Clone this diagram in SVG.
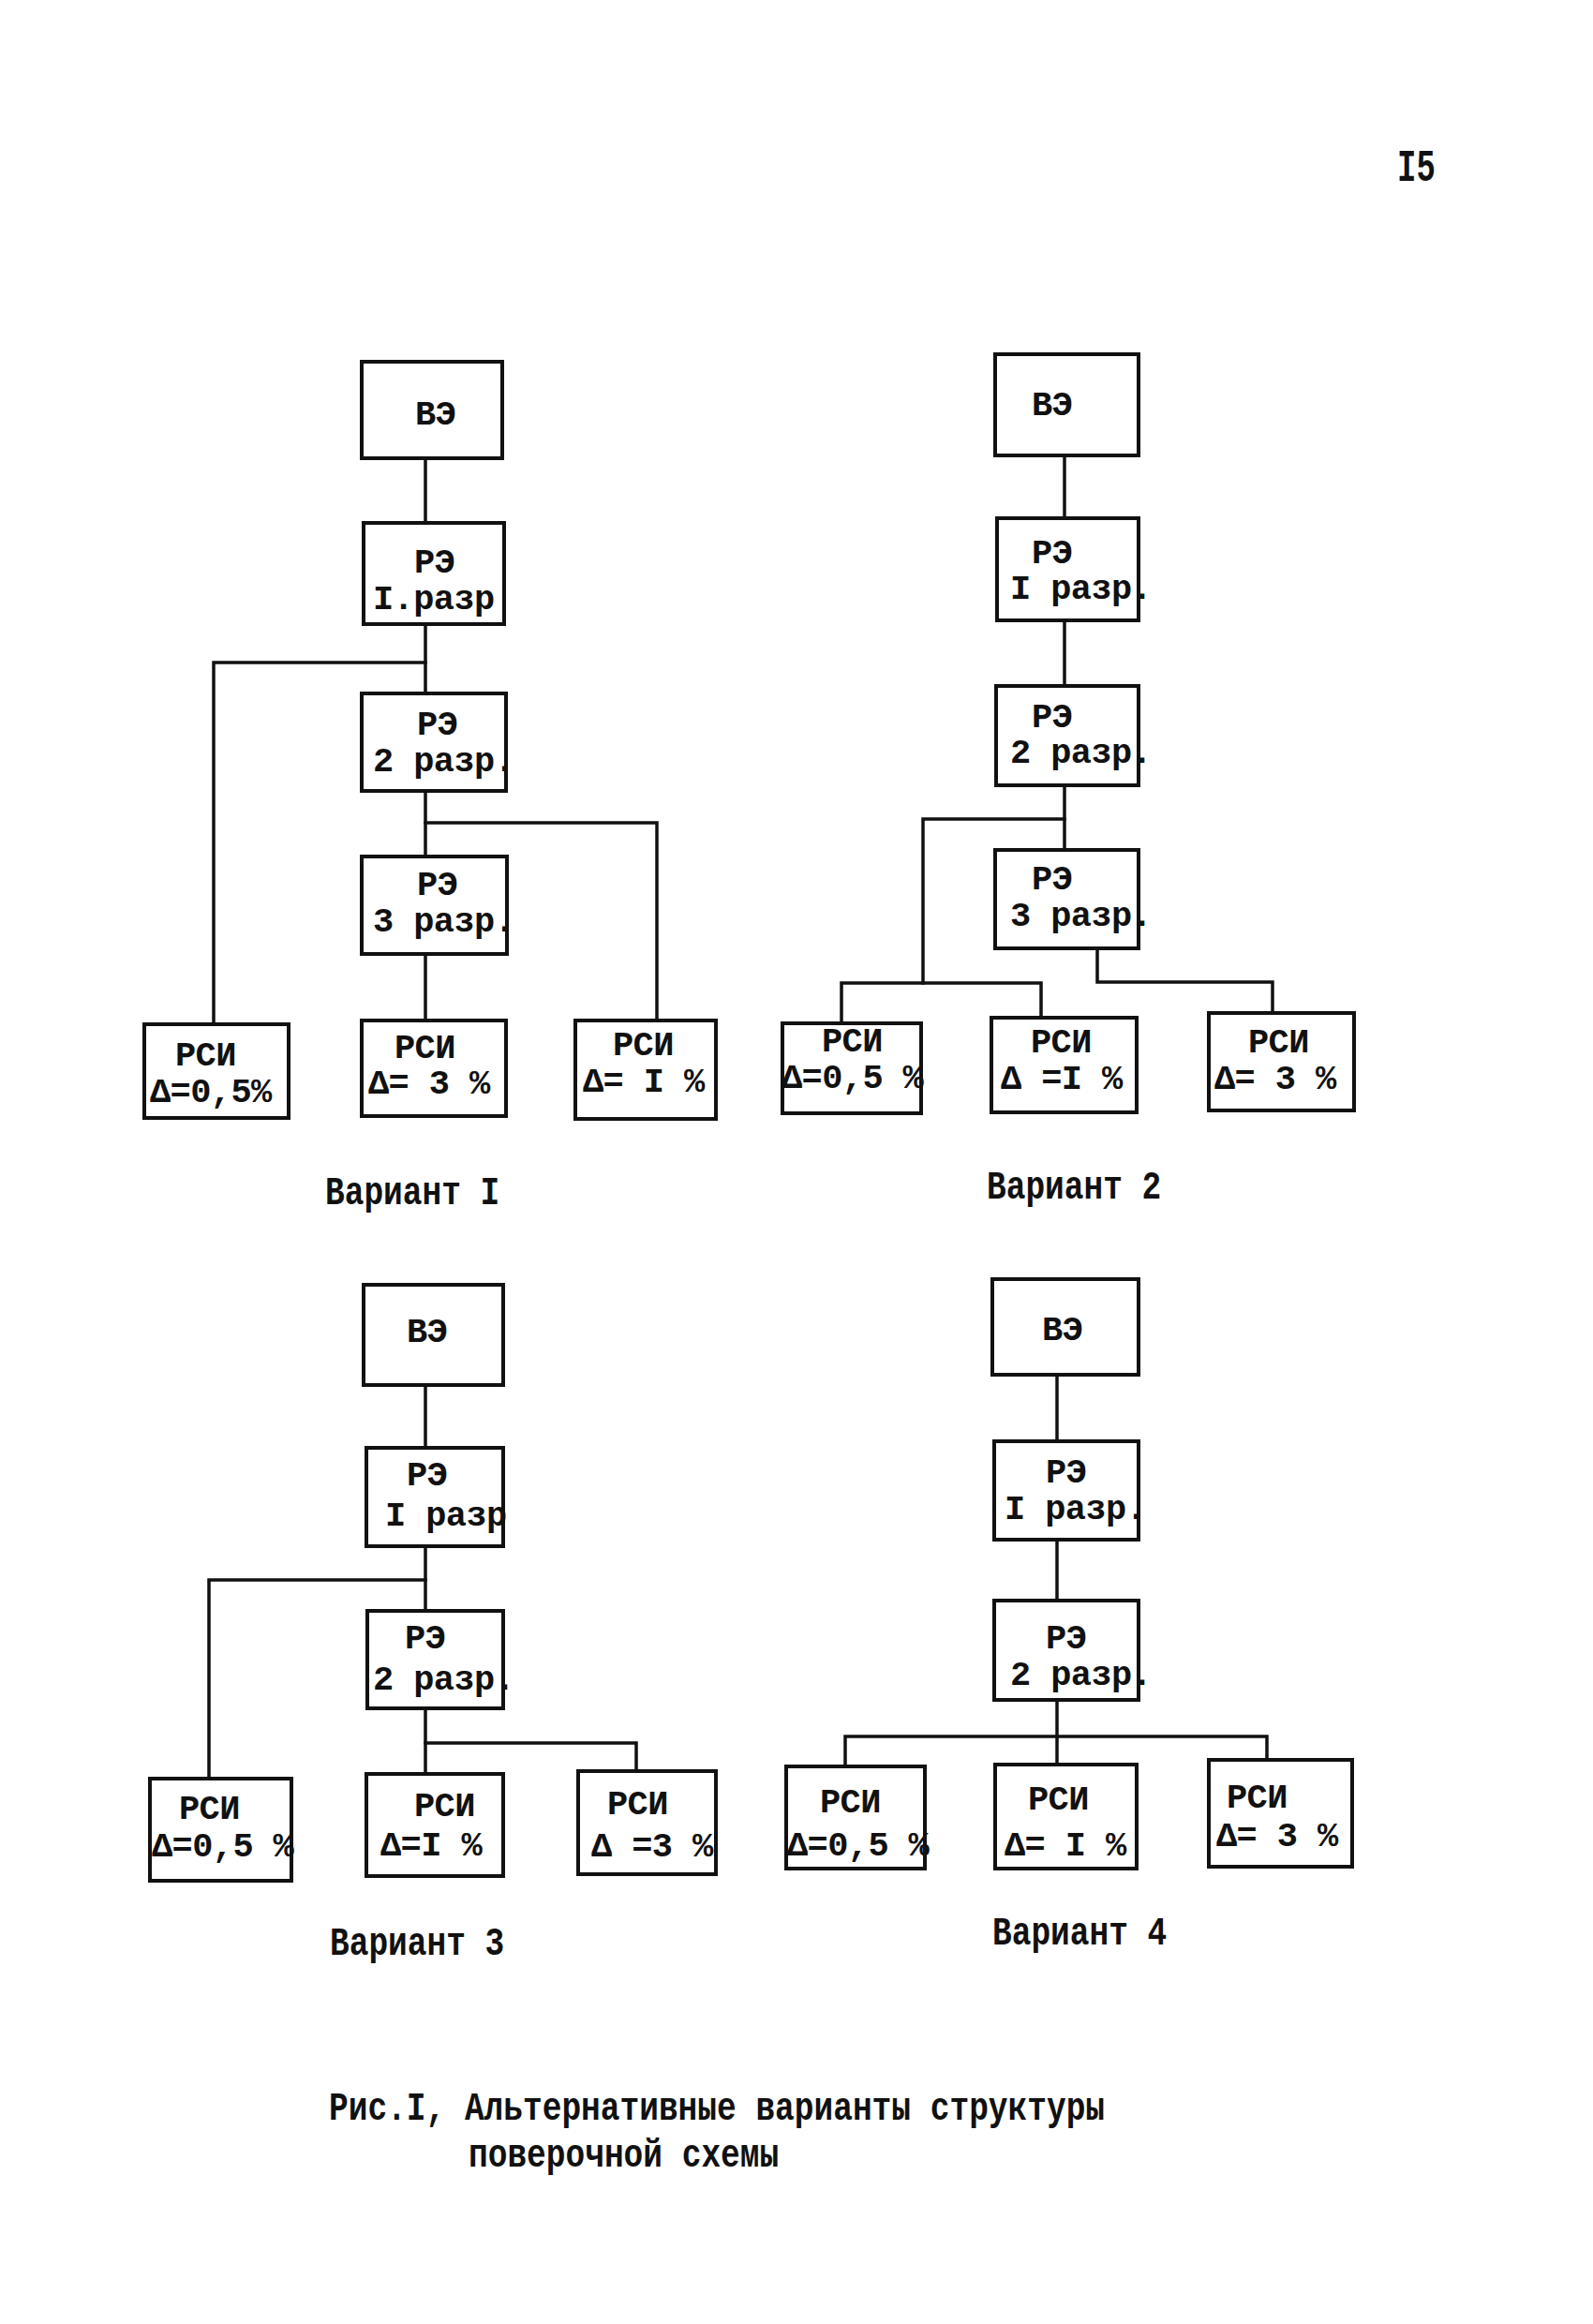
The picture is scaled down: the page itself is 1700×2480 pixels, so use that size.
<svg xmlns="http://www.w3.org/2000/svg" width="1700" height="2480" viewBox="0 0 1700 2480">
<style>
.bg { fill: #ffffff; }
.box { fill: #ffffff; stroke: #111111; stroke-width: 4; }
.ln { fill: none; stroke: #111111; stroke-width: 3.5; stroke-linecap: square; }
.t { font-family: "Liberation Mono", "DejaVu Sans Mono", monospace; font-size: 37px; letter-spacing: -0.6px; font-weight: bold; fill: #111111; }
.lbl { font-family: "Liberation Mono", "DejaVu Sans Mono", monospace; font-size: 34.5px; font-weight: bold; fill: #111111; }
.pg { font-family: "Liberation Mono", "DejaVu Sans Mono", monospace; font-size: 34px; font-weight: bold; fill: #111111; }
</style>
<rect class="bg" x="0" y="0" width="1700" height="2480"/>

<text id="page-number" class="pg" x="1491" y="193" transform="matrix(1 0 0 1.4 0 -77.2)">I5</text>

<g id="connectors">
  <!-- Variant 1 -->
  <path class="ln" d="M454 489 V558"/>
  <path class="ln" d="M454 666 V740"/>
  <path class="ln" d="M454 707 H228 V1093"/>
  <path class="ln" d="M454 844 V914"/>
  <path class="ln" d="M454 878 H701 V1089"/>
  <path class="ln" d="M454 1018 V1089"/>
  <!-- Variant 2 -->
  <path class="ln" d="M1136 486 V553"/>
  <path class="ln" d="M1136 662 V732"/>
  <path class="ln" d="M1136 838 V907"/>
  <path class="ln" d="M1136 874 H985 V1049"/>
  <path class="ln" d="M898 1092 V1049 H1111 V1086"/>
  <path class="ln" d="M1171 1012 V1048 H1358 V1081"/>
  <!-- Variant 3 -->
  <path class="ln" d="M454 1478 V1545"/>
  <path class="ln" d="M454 1650 V1719"/>
  <path class="ln" d="M454 1686 H223 V1898"/>
  <path class="ln" d="M454 1822 V1893"/>
  <path class="ln" d="M454 1860 H679 V1890"/>
  <!-- Variant 4 -->
  <path class="ln" d="M1128 1467 V1538"/>
  <path class="ln" d="M1128 1643 V1708"/>
  <path class="ln" d="M1128 1814 V1883"/>
  <path class="ln" d="M902 1885 V1853 H1352 V1878"/>
</g>

<!-- Variant 1 -->
<g id="v1-ve"><rect class="box" x="386" y="386" width="150" height="103"/>
  <text class="t" x="443" y="453">ВЭ</text></g>
<g id="v1-re1"><rect class="box" x="388" y="558" width="150" height="108"/>
  <text class="t"><tspan x="442" y="611">РЭ</tspan><tspan x="398" y="649.5">I.разр</tspan></text></g>
<g id="v1-re2"><rect class="box" x="386" y="740" width="154" height="104"/>
  <text class="t"><tspan x="445" y="784.25">РЭ</tspan><tspan x="398" y="822.75">2 разр.</tspan></text></g>
<g id="v1-re3"><rect class="box" x="386" y="914" width="155" height="104"/>
  <text class="t"><tspan x="445" y="955">РЭ</tspan><tspan x="398" y="993.5">3 разр.</tspan></text></g>
<g id="v1-rsi1"><rect class="box" x="154" y="1093" width="154" height="100"/>
  <text class="t"><tspan x="187" y="1137.25">РСИ</tspan><tspan x="160" y="1175.75">Δ=0,5%</tspan></text></g>
<g id="v1-rsi2"><rect class="box" x="386" y="1089" width="154" height="102"/>
  <text class="t"><tspan x="421" y="1128.75">РСИ</tspan><tspan x="393" y="1167.25">Δ= 3 %</tspan></text></g>
<g id="v1-rsi3"><rect class="box" x="614" y="1089" width="150" height="105"/>
  <text class="t"><tspan x="654" y="1126">РСИ</tspan><tspan x="622" y="1165">Δ= I %</tspan></text></g>
<text id="v1-label" class="lbl" x="347" y="1285" transform="matrix(1 0 0 1.25 0 -321.25)">Вариант I</text>

<!-- Variant 2 -->
<g id="v2-ve"><rect class="box" x="1062" y="378" width="153" height="108"/>
  <text class="t" x="1101" y="443">ВЭ</text></g>
<g id="v2-re1"><rect class="box" x="1064" y="553" width="151" height="109"/>
  <text class="t"><tspan x="1101" y="600.75">РЭ</tspan><tspan x="1078" y="639.25">I разр.</tspan></text></g>
<g id="v2-re2"><rect class="box" x="1063" y="732" width="152" height="106"/>
  <text class="t"><tspan x="1101" y="775.75">РЭ</tspan><tspan x="1078" y="814.25">2 разр.</tspan></text></g>
<g id="v2-re3"><rect class="box" x="1062" y="907" width="153" height="105"/>
  <text class="t"><tspan x="1101" y="949">РЭ</tspan><tspan x="1078" y="988">3 разр.</tspan></text></g>
<g id="v2-rsi1"><rect class="box" x="835" y="1092" width="148" height="96"/>
  <text class="t"><tspan x="877" y="1122.25">РСИ</tspan><tspan x="834" y="1160.75">Δ=0,5 %</tspan></text></g>
<g id="v2-rsi2"><rect class="box" x="1058" y="1086" width="155" height="101"/>
  <text class="t"><tspan x="1100" y="1123.25">РСИ</tspan><tspan x="1068" y="1161.75">Δ =I %</tspan></text></g>
<g id="v2-rsi3"><rect class="box" x="1290" y="1081" width="155" height="104"/>
  <text class="t"><tspan x="1332" y="1123.25">РСИ</tspan><tspan x="1296" y="1161.75">Δ= 3 %</tspan></text></g>
<text id="v2-label" class="lbl" x="1053" y="1279" transform="matrix(1 0 0 1.25 0 -319.75)">Вариант 2</text>

<!-- Variant 3 -->
<g id="v3-ve"><rect class="box" x="388" y="1371" width="149" height="107"/>
  <text class="t" x="434" y="1432">ВЭ</text></g>
<g id="v3-re1"><rect class="box" x="391" y="1545" width="146" height="105"/>
  <text class="t"><tspan x="434" y="1585">РЭ</tspan><tspan x="411" y="1628">I разр</tspan></text></g>
<g id="v3-re2"><rect class="box" x="392" y="1719" width="145" height="104"/>
  <text class="t"><tspan x="432" y="1759">РЭ</tspan><tspan x="398" y="1803">2 разр.</tspan></text></g>
<g id="v3-rsi1"><rect class="box" x="160" y="1898" width="151" height="109"/>
  <text class="t"><tspan x="191" y="1941">РСИ</tspan><tspan x="162" y="1981">Δ=0,5 %</tspan></text></g>
<g id="v3-rsi2"><rect class="box" x="391" y="1893" width="146" height="109"/>
  <text class="t"><tspan x="442" y="1938">РСИ</tspan><tspan x="406" y="1980">Δ=I %</tspan></text></g>
<g id="v3-rsi3"><rect class="box" x="617" y="1890" width="147" height="110"/>
  <text class="t"><tspan x="648" y="1936">РСИ</tspan><tspan x="631" y="1981">Δ =3 %</tspan></text></g>
<text id="v3-label" class="lbl" x="352" y="2086" transform="matrix(1 0 0 1.25 0 -521.5)">Вариант 3</text>

<!-- Variant 4 -->
<g id="v4-ve"><rect class="box" x="1059" y="1365" width="156" height="102"/>
  <text class="t" x="1112" y="1430">ВЭ</text></g>
<g id="v4-re1"><rect class="box" x="1061" y="1538" width="154" height="105"/>
  <text class="t"><tspan x="1116" y="1582">РЭ</tspan><tspan x="1072" y="1621">I разр.</tspan></text></g>
<g id="v4-re2"><rect class="box" x="1061" y="1708" width="154" height="106"/>
  <text class="t"><tspan x="1116" y="1759">РЭ</tspan><tspan x="1078" y="1798">2 разр.</tspan></text></g>
<g id="v4-rsi1"><rect class="box" x="839" y="1885" width="148" height="109"/>
  <text class="t"><tspan x="875" y="1934">РСИ</tspan><tspan x="840" y="1980">Δ=0,5 %</tspan></text></g>
<g id="v4-rsi2"><rect class="box" x="1062" y="1883" width="151" height="111"/>
  <text class="t"><tspan x="1097" y="1931">РСИ</tspan><tspan x="1072" y="1980">Δ= I %</tspan></text></g>
<g id="v4-rsi3"><rect class="box" x="1290" y="1878" width="153" height="114"/>
  <text class="t"><tspan x="1309" y="1929">РСИ</tspan><tspan x="1298" y="1970">Δ= 3 %</tspan></text></g>
<text id="v4-label" class="lbl" x="1059" y="2075" transform="matrix(1 0 0 1.25 0 -518.75)">Вариант 4</text>

<g id="caption">
  <text class="lbl" y="2262" transform="matrix(1 0 0 1.25 0 -565.5)"><tspan x="351">Рис.I, Альтернативные варианты структуры</tspan><tspan x="500" dy="40">поверочной схемы</tspan></text>
</g>
</svg>
